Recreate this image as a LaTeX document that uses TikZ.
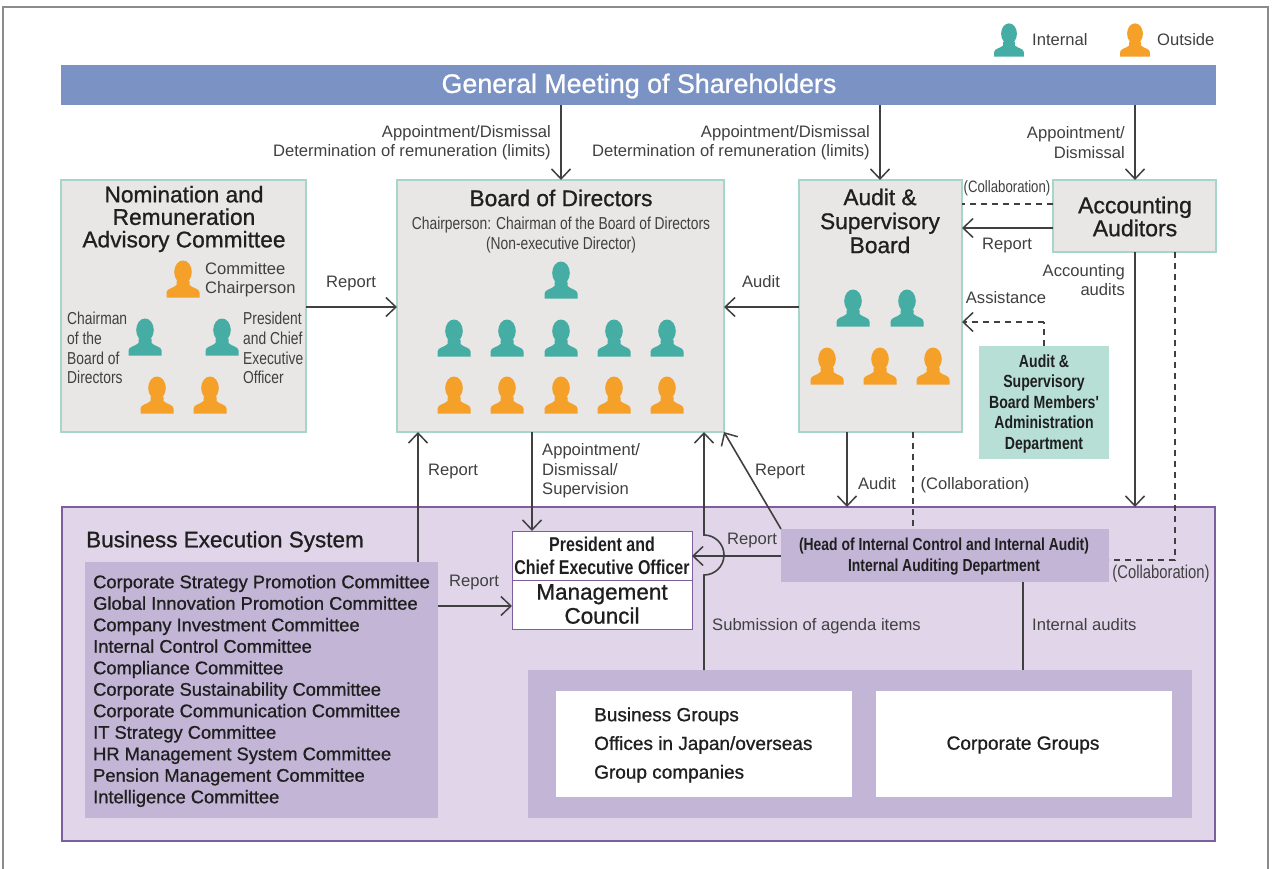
\documentclass[tikz,border=0pt]{standalone}
\usepackage{fontspec}
\usepackage{tikz}
\usetikzlibrary{arrows.meta}
\setmainfont{Liberation Sans}
\newfontfamily\medfont[FakeBold=0.9]{Liberation Sans}
\newfontfamily\narrowfont[FakeStretch=0.80]{Liberation Sans}
\definecolor{barblue}{HTML}{7B93C4}
\definecolor{boxgray}{HTML}{E8E7E6}
\definecolor{boxedge}{HTML}{A6D5CB}
\definecolor{adminteal}{HTML}{B7DFD6}
\definecolor{execlilac}{HTML}{E1D6E9}
\definecolor{execedge}{HTML}{7D5F9E}
\definecolor{paneldark}{HTML}{C3B5D6}
\definecolor{teal}{HTML}{46ADA4}
\definecolor{amber}{HTML}{F5A028}
\definecolor{inkgray}{HTML}{404040}
\tikzset{
  every node/.style={inner sep=0pt},
  panel/.style={outer sep=0pt, anchor=north west},
  box/.style={panel, fill=boxgray, draw=boxedge, line width=1.2pt},
  title/.style={align=center, text=black!88, font=\medfont\fontsize{22.7}{22.5}\selectfont},
  lab/.style={align=center, text=inkgray, font=\fontsize{16.6}{19.3}\selectfont},
  slab/.style={align=left, text=inkgray, font=\narrowfont\fontsize{17.3}{19.7}\selectfont},
  arr/.style={->, >={Straight Barb[length=10pt,width=19pt,line width=1.5pt]}, line width=1.6pt, inkgray},
  lin/.style={line width=1.6pt, inkgray},
  dsh/.style={line width=1.6pt, inkgray, dash pattern=on 6pt off 5pt},
  person/.pic={
    \fill (0,-7) ellipse [x radius=8.8, y radius=11.5];
    \fill (-16.5,18.5) -- (-16.5,13.5) .. controls (-16.5,9.5) and (-9,9) .. (-6.5,6) -- (-6.5,2)
      -- (6.5,2) -- (6.5,6) .. controls (9,9) and (16.5,9.5) .. (16.5,13.5) -- (16.5,18.5) -- cycle;
  }
}
\begin{document}
\begin{tikzpicture}[x=1pt, y=-1pt]
\useasboundingbox (0,0) rectangle (1274,869);
\draw [line width=1.5pt, black!45] (3,869) -- (3,7) -- (1268,7) -- (1268,869);

% columns of the connectors
\coordinate (X1) at (418,0) ;
\coordinate (X2) at (532,0) ;
\coordinate (X3) at (561,0) ;
\coordinate (X4) at (704,0) ;
\coordinate (X5) at (847,0) ;
\coordinate (X6) at (880,0) ;
\coordinate (X7) at (913,0) ;
\coordinate (X8) at (1023,0) ;
\coordinate (X9) at (1044,0) ;
\coordinate (X10) at (1135,0) ;
\coordinate (X11) at (1175,0) ;
% rows of the connectors
\coordinate (Y1) at (0,204) ;
\coordinate (Y2) at (0,228) ;
\coordinate (Y3) at (0,307) ;
\coordinate (Y4) at (0,322) ;
\coordinate (Y5) at (0,556) ;
\coordinate (Y6) at (0,560) ;
\coordinate (Y7) at (0,606) ;

% boxes
\node [panel, fill=barblue, minimum width=1155pt, minimum height=40pt] (bar) at (61,65) {};
\node [box, minimum width=245pt, minimum height=252pt] (nomination) at (61,180) {};
\node [box, minimum width=327pt, minimum height=252pt] (board) at (397,180) {};
\node [box, minimum width=163pt, minimum height=252pt] (audit) at (799,180) {};
\node [box, minimum width=163pt, minimum height=72pt] (accounting) at (1053,180) {};
\node [panel, fill=adminteal, minimum width=130pt, minimum height=113pt] (admin) at (979,346) {};
\node [panel, fill=execlilac, draw=execedge, line width=2.5pt, minimum width=1153pt, minimum height=334pt] (exec) at (62,507) {};
\node [panel, fill=paneldark, minimum width=353pt, minimum height=256pt] (committees) at (85,562) {};
\node [panel, fill=white, draw=execedge, line width=.8pt, minimum width=180pt, minimum height=49pt] (president) at (512,531) {};
\node [panel, fill=white, draw=execedge, line width=.8pt, minimum width=180pt, minimum height=49pt] (council) at (512,580) {};
\node [panel, fill=paneldark, minimum width=328pt, minimum height=53pt] (internal) at (781,529) {};
\node [panel, fill=paneldark, minimum width=664pt, minimum height=148pt] (groups) at (528,670) {};
\node [panel, fill=white, minimum width=296pt, minimum height=106pt] (business) at (556,691) {};
\node [panel, fill=white, minimum width=296pt, minimum height=106pt] (corporate) at (876,691) {};

% connectors
\draw [arr] (bar.south -| X3) -- (board.north -| X3);
\draw [arr] (bar.south -| X6) -- (audit.north -| X6);
\draw [arr] (bar.south -| X10) -- (accounting.north -| X10);
\draw [arr] (nomination.east |- Y3) -- (board.west |- Y3);
\draw [arr] (audit.west |- Y3) -- (board.east |- Y3);
\draw [arr] (accounting.west |- Y2) -- (audit.east |- Y2);
\draw [dsh] (accounting.west |- Y1) -- (audit.east |- Y1);
\draw [dsh] (admin.north -| X9) -- (X9 |- Y4);
\draw [arr, dash pattern=on 6pt off 5pt] (X9 |- Y4) -- (audit.east |- Y4);
\draw [arr] (board.south -| X2) -- (president.north -| X2);
\draw [arr] (committees.north -| X1) -- (board.south -| X1);
\draw [arr] (groups.north -| X4) -- (704,575) arc (-90:90:20 and -20) -- (board.south -| X4);
\draw [arr] (internal.north west) -- (board.south east);
\draw [arr] (audit.south -| X5) -- (exec.north -| X5);
\draw [dsh] (audit.south -| X7) -- (internal.north -| X7);
\draw [arr] (accounting.south -| X10) -- (exec.north -| X10);
\draw [dsh] (accounting.south -| X11) -- (X11 |- Y6) -- (internal.east |- Y6);
\draw [arr] (internal.west |- Y5) -- (president.east |- Y5);
\draw [arr] (committees.east |- Y7) -- (council.west |- Y7);
\draw [lin] (internal.south -| X8) -- (groups.north -| X8);

% titles
\node [text=white, font=\medfont\fontsize{26.8}{28}\selectfont] (barname) at (639,86) {General Meeting of Shareholders};
\node [title] (nomname) at (184,219) {Nomination and\\Remuneration\\Advisory Committee};
\node [title] (boardname) at (561,198) {Board of Directors};
\node [title, font=\medfont\fontsize{22.7}{24}\selectfont] (auditname) at (880,221) {Audit \&\\Supervisory\\Board};
\node [title, font=\medfont\fontsize{23}{23}\selectfont] (accname) at (1135,216.5) {Accounting\\Auditors};
\node [slab, align=center] (chairname) at (561,235) {Chairperson: Chairman of the Board of Directors\\(Non-executive Director)};
\node [align=center, text=black!88, font=\narrowfont\bfseries\fontsize{17.6}{20.5}\selectfont] (adminname) at (1044,403.5) {Audit \&\\Supervisory\\Board Members'\\Administration\\Department};
\node [align=center, text=black!88, font=\narrowfont\bfseries\fontsize{20}{23}\selectfont] (presname) at (602,556) {President and\\Chief Executive Officer};
\node [align=center, text=black!88, font=\medfont\fontsize{22.5}{24}\selectfont] (councilname) at (602,604) {Management\\Council};
\node [align=center, text=black!88, font=\narrowfont\bfseries\fontsize{17.4}{21}\selectfont] (intname) at (944,556.5) {(Head of Internal Control and Internal Audit)\\Internal Auditing Department};
\node [text=black!88, font=\medfont\fontsize{22.5}{24}\selectfont, anchor=west] (execname) at (86,541.5) {Business Execution System};
\node [anchor=west, align=left, text=black!88, font=\medfont\fontsize{18.3}{21.5}\selectfont] (comlist) at (93,691) {Corporate Strategy Promotion Committee\\Global Innovation Promotion Committee\\Company Investment Committee\\Internal Control Committee\\Compliance Committee\\Corporate Sustainability Committee\\Corporate Communication Committee\\IT Strategy Committee\\HR Management System Committee\\Pension Management Committee\\Intelligence Committee};
\node [anchor=west, align=left, text=black!88, font=\medfont\fontsize{19}{28.7}\selectfont] (busname) at (594,745) {Business Groups\\Offices in Japan/overseas\\Group companies};
\node [text=black!88, font=\medfont\fontsize{19.1}{20}\selectfont] (corpname) at (1023,745) {Corporate Groups};

% labels
\node [lab, align=right, anchor=east] (lab1) at (551,143) {Appointment/Dismissal\\Determination of remuneration (limits)};
\node [lab, align=right, anchor=east] (lab2) at (870,143) {Appointment/Dismissal\\Determination of remuneration (limits)};
\node [lab, align=right, anchor=east] (lab3) at (1125,142.5) {Appointment/\\Dismissal};
\node [lab] (lab4) at (351,283.5) {Report};
\node [lab] (lab5) at (761,282) {Audit};
\node [lab] (lab6) at (1007,245.5) {Report};
\node [slab, font=\narrowfont\fontsize{16.5}{19}\selectfont] (lab7) at (1007,188) {(Collaboration)};
\node [lab, align=right, anchor=east] (lab8) at (1125,280) {Accounting\\audits};
\node [lab] (lab9) at (1006,298) {Assistance};
\node [lab] (lab10) at (453,471.5) {Report};
\node [lab, align=left, anchor=west] (lab11) at (542,471) {Appointment/\\Dismissal/\\Supervision};
\node [lab] (lab12) at (780,471.5) {Report};
\node [lab] (lab13) at (877,484) {Audit};
\node [lab] (lab14) at (975,485) {(Collaboration)};
\node [lab] (lab15) at (752,540.5) {Report};
\node [slab, font=\narrowfont\fontsize{18.5}{19}\selectfont] (lab16) at (1161,574) {(Collaboration)};
\node [lab] (lab17) at (474,582.5) {Report};
\node [lab, anchor=west] (lab18) at (712,626) {Submission of agenda items};
\node [lab, anchor=west] (lab19) at (1032,625) {Internal audits};
\node [lab, anchor=west] (lab20) at (1032,40) {Internal};
\node [lab, anchor=west] (lab21) at (1157,40) {Outside};
\node [lab, align=left, anchor=west] (lab22) at (205,280) {Committee\\Chairperson};
\node [slab, anchor=west] (lab23) at (67,348) {Chairman\\of the\\Board of\\Directors};
\node [slab, anchor=west] (lab24) at (243,348) {President\\and Chief\\Executive\\Officer};

% people
\pic [teal, scale=.9] at (1009,40) {person};
\pic [amber, scale=.9] at (1135,40) {person};
\pic [amber] at (183,279) {person};
\foreach \px in {145,222} \pic [teal] at (\px,337) {person};
\foreach \px in {157,210} \pic [amber] at (\px,395) {person};
\pic [teal] at (561,280) {person};
\foreach \px in {454,507,561,614,667} {
  \pic [teal] at (\px,338) {person};
  \pic [amber] at (\px,395) {person};
}
\foreach \px in {853,907} \pic [teal] at (\px,308) {person};
\foreach \px in {827,880,933} \pic [amber] at (\px,366) {person};
\end{tikzpicture}
\end{document}
